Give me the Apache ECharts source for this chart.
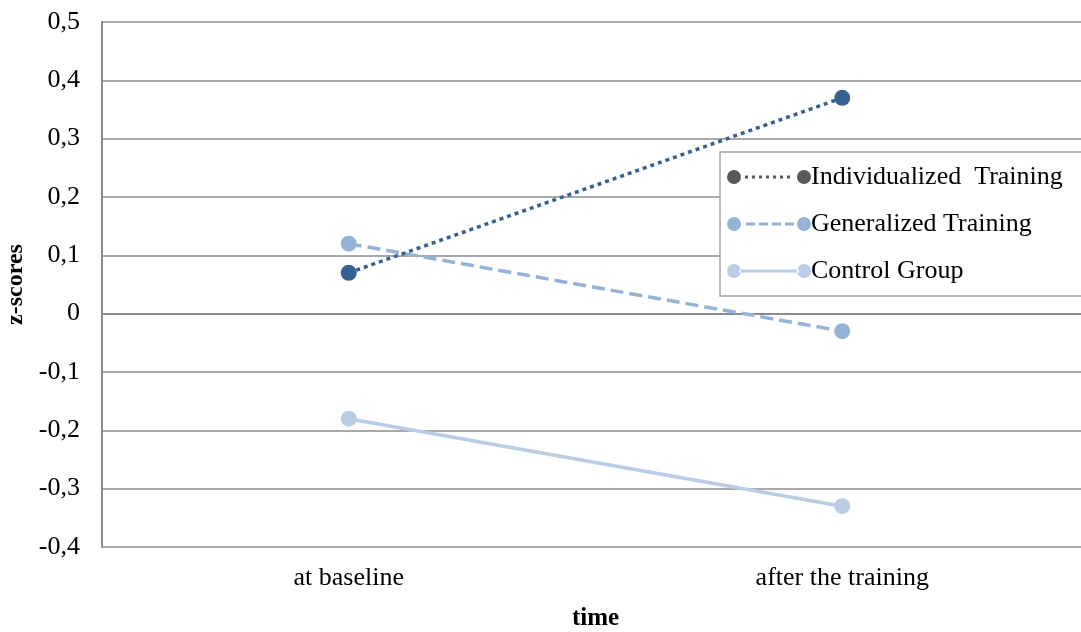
<!DOCTYPE html>
<html><head><meta charset="utf-8">
<script src="https://cdn.jsdelivr.net/npm/echarts@6/dist/echarts.min.js"></script>
<style>html,body{margin:0;padding:0;background:#fff}#c{width:1081px;height:632px}</style>
</head><body><div id="c"></div>
<script>
var categories = ['at baseline', 'after the training'];
var individualized = [0.07, 0.37];
var generalized = [0.12, -0.03];
var control = [-0.18, -0.33];
var seriesNames = ['Individualized  Training', 'Generalized Training', 'Control Group'];

var circles = 'M0,7 a7,7 0 1,0 14,0 a7,7 0 1,0 -14,0 Z M70,7 a7,7 0 1,0 14,0 a7,7 0 1,0 -14,0 Z ';
function seg(x0, x1, step, len, h) {
  var s = '';
  for (var x = x0; x + len <= x1 + 0.01; x += step) {
    s += 'M' + x + ',' + (7 - h / 2) + ' L' + (x + len) + ',' + (7 - h / 2) + ' L' + (x + len) + ',' + (7 + h / 2) + ' L' + x + ',' + (7 + h / 2) + ' Z ';
  }
  return s;
}
var iconDot = 'path://' + circles + seg(18, 67, 7, 3, 3);
var iconDash = 'path://' + circles + seg(19, 68, 13, 9, 3);
var iconSolid = 'path://' + circles + seg(12, 72, 60, 60, 3);

var font = '"Liberation Serif", "Times New Roman", serif';
var chart = echarts.init(document.getElementById('c'));
chart.setOption({
  animation: false,
  textStyle: { fontFamily: font },
  grid: { left: 102, right: -8, top: 22, bottom: 85, containLabel: false, outerBoundsMode: 'none' },
  xAxis: {
    type: 'category', data: categories, boundaryGap: true,
    axisLine: { show: true, lineStyle: { color: '#8c8c8c', width: 2 } },
    axisTick: { show: false },
    axisLabel: { color: '#000', fontSize: 26, fontFamily: font, margin: 18 },
    name: 'time', nameLocation: 'middle', nameGap: 59,
    nameTextStyle: { color: '#000', fontSize: 25, fontWeight: 'bold', fontFamily: font }
  },
  yAxis: {
    type: 'value', min: -0.4, max: 0.5, interval: 0.1,
    axisLine: { show: true, lineStyle: { color: '#8c8c8c', width: 2 } },
    axisTick: { show: false },
    splitLine: { show: true, lineStyle: { color: '#8c8c8c', width: 1.5 } },
    axisLabel: { color: '#000', fontSize: 26, fontFamily: font, margin: 22,
      formatter: function (v) { return (Math.round(v * 10) / 10).toString().replace('.', ','); } },
    name: 'z-scores', nameLocation: 'middle', nameGap: 72,
    nameTextStyle: { color: '#000', fontSize: 24, fontWeight: 'bold', fontFamily: font }
  },
  legend: {
    orient: 'vertical', left: 720, top: 152,
    backgroundColor: '#fff', borderColor: '#a6a6a6', borderWidth: 1.5,
    padding: [12, 40, 12, 7], itemGap: 21,
    itemWidth: 84, itemHeight: 14,
    textStyle: { color: '#000', fontSize: 26, fontFamily: font, padding: [0, 0, 0, -5] },
    data: [
      { name: seriesNames[0], icon: iconDot, itemStyle: { color: '#595959' } },
      { name: seriesNames[1], icon: iconDash, itemStyle: { color: '#95b3d7' } },
      { name: seriesNames[2], icon: iconSolid, itemStyle: { color: '#b9cde5' } }
    ]
  },
  series: [
    { name: seriesNames[0], type: 'line', data: individualized, symbol: 'circle', symbolSize: 16,
      itemStyle: { color: '#376092' }, lineStyle: { color: '#376092', width: 3.5, type: [4, 4] }, z: 3 },
    { name: seriesNames[1], type: 'line', data: generalized, symbol: 'circle', symbolSize: 16,
      itemStyle: { color: '#95b3d7' }, lineStyle: { color: '#95b3d7', width: 3.5, type: [13, 6] }, z: 2 },
    { name: seriesNames[2], type: 'line', data: control, symbol: 'circle', symbolSize: 16,
      itemStyle: { color: '#b9cde5' }, lineStyle: { color: '#b9cde5', width: 3.5, type: 'solid' }, z: 1 }
  ]
});
</script></body></html>
